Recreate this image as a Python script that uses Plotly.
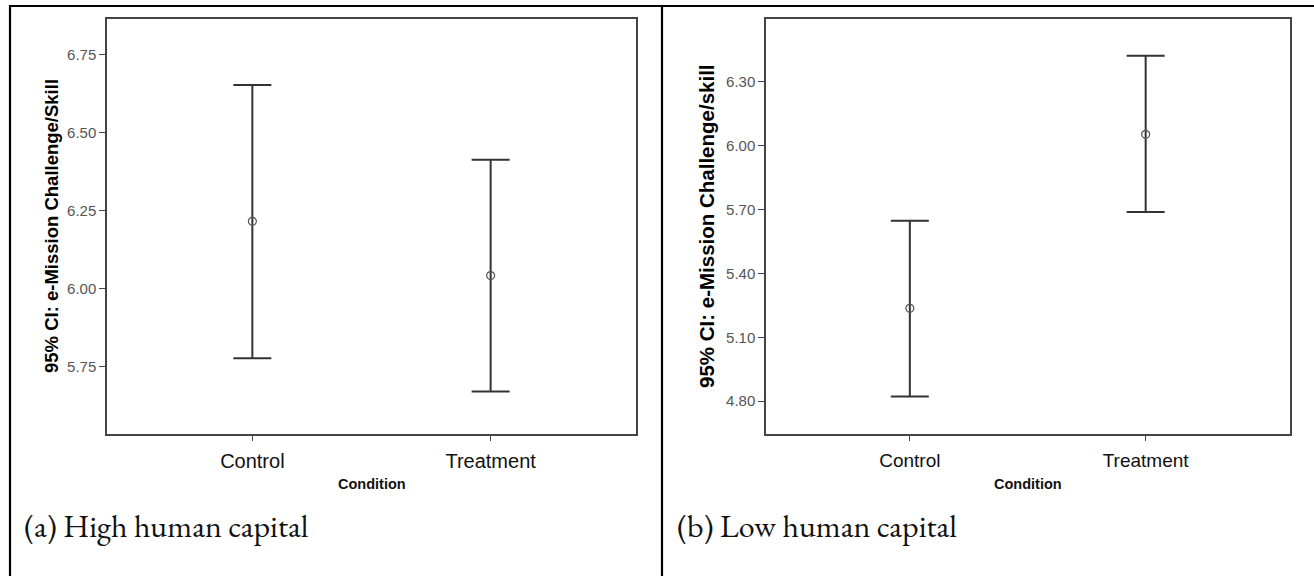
import plotly.graph_objects as go
import numpy as np

# ---------------- data ----------------
categories = ["Control", "Treatment"]

high_mean = [6.215, 6.041]
high_upper = [6.652, 6.412]
high_lower = [5.776, 5.670]

low_mean = [5.236, 6.053]
low_upper = [5.647, 6.422]
low_lower = [4.822, 5.688]

high_ticks = [5.75, 6.00, 6.25, 6.50, 6.75]
low_ticks = [4.80, 5.10, 5.40, 5.70, 6.00, 6.30]

captions = ["(a) High human capital", "(b) Low human capital"]
ytitles = ["95% CI: e-Mission Challenge/Skill", "95% CI: e-Mission Challenge/skill"]
xtitle = "Condition"

W, H = 1314, 576

fig = go.Figure()

def add_panel(mean, upper, lower, xa, ya):
    mean = np.array(mean); upper = np.array(upper); lower = np.array(lower)
    fig.add_trace(go.Scatter(
        x=categories, y=mean, mode="markers",
        marker=dict(symbol="circle-open", size=8, color="#555555", line=dict(width=1.2)),
        error_y=dict(type="data", symmetric=False, array=upper - mean, arrayminus=mean - lower,
                     color="#333333", thickness=2, width=19),
        xaxis=xa, yaxis=ya, showlegend=False, hoverinfo="skip"))

add_panel(high_mean, high_upper, high_lower, "x", "y")
add_panel(low_mean, low_upper, low_lower, "x2", "y2")

frame = dict(showline=True, linecolor="#444444", linewidth=1.5, mirror=True,
             showgrid=False, zeroline=False, ticks="outside", ticklen=6, tickcolor="#444444",
             tickwidth=1.2)

ytop = 1 - 18.5 / H
ybot = 1 - 433.5 / H

fig.update_layout(
    width=W, height=H, margin=dict(l=0, r=0, t=0, b=0),
    paper_bgcolor="white", plot_bgcolor="white",
    font=dict(family="Arial, Liberation Sans, sans-serif"),
    xaxis=dict(frame, domain=[107 / W, 636 / W], range=[-0.61, 1.61], type="category",
               tickfont=dict(size=20, color="#111111"), ticklabelstandoff=3, anchor="y"),
    yaxis=dict(frame, domain=[ybot, ytop], range=[5.535, 6.865], tickvals=high_ticks,
               tickformat=".2f", tickfont=dict(size=15, color="#555555"), anchor="x"),
    xaxis2=dict(frame, domain=[766 / W, 1289.5 / W], range=[-0.61, 1.61], type="category",
                tickfont=dict(size=19, color="#111111"), ticklabelstandoff=3, anchor="y2"),
    yaxis2=dict(frame, domain=[ybot, ytop], range=[4.648, 6.597], tickvals=low_ticks,
                tickformat=".2f", tickfont=dict(size=15, color="#555555"), anchor="x2"),
)

ymid = (ybot + ytop) / 2
ann = []
# y-axis titles
ann.append(dict(x=51 / W, y=ymid, xref="paper", yref="paper", text="<b>%s</b>" % ytitles[0],
                textangle=-90, showarrow=False, font=dict(size=18.5, color="#000000"),
                xanchor="center", yanchor="middle"))
ann.append(dict(x=706 / W, y=ymid, xref="paper", yref="paper", text="<b>%s</b>" % ytitles[1],
                textangle=-90, showarrow=False, font=dict(size=20.5, color="#000000"),
                xanchor="center", yanchor="middle"))
# x-axis titles
ann.append(dict(x=(107 + 636) / 2 / W, y=1 - 484 / H, xref="paper", yref="paper",
                text="<b>%s</b>" % xtitle, showarrow=False, font=dict(size=14.5, color="#111111"),
                xanchor="center", yanchor="middle"))
ann.append(dict(x=(766 + 1289.5) / 2 / W, y=1 - 484 / H, xref="paper", yref="paper",
                text="<b>%s</b>" % xtitle, showarrow=False, font=dict(size=14.5, color="#111111"),
                xanchor="center", yanchor="middle"))
# captions
ann.append(dict(x=22 / W, y=1 - 526 / H, xref="paper", yref="paper", text=captions[0],
                showarrow=False, font=dict(size=32, color="#111111",
                                           family="EB Garamond, Garamond, Liberation Serif, serif"),
                xanchor="left", yanchor="middle"))
ann.append(dict(x=675 / W, y=1 - 526 / H, xref="paper", yref="paper", text=captions[1],
                showarrow=False, font=dict(size=32, color="#111111",
                                           family="EB Garamond, Garamond, Liberation Serif, serif"),
                xanchor="left", yanchor="middle"))
fig.update_layout(annotations=ann)

# table borders
shapes = [
    dict(type="line", xref="paper", yref="paper", x0=9 / W, x1=1, y0=1 - 6 / H, y1=1 - 6 / H,
         line=dict(color="black", width=2.2)),
    dict(type="line", xref="paper", yref="paper", x0=10 / W, x1=10 / W, y0=0, y1=1 - 5 / H,
         line=dict(color="black", width=2.2)),
    dict(type="line", xref="paper", yref="paper", x0=662 / W, x1=662 / W, y0=0, y1=1 - 5 / H,
         line=dict(color="black", width=2.2)),
]
fig.update_layout(shapes=shapes)

fig.write_html("out.html")
